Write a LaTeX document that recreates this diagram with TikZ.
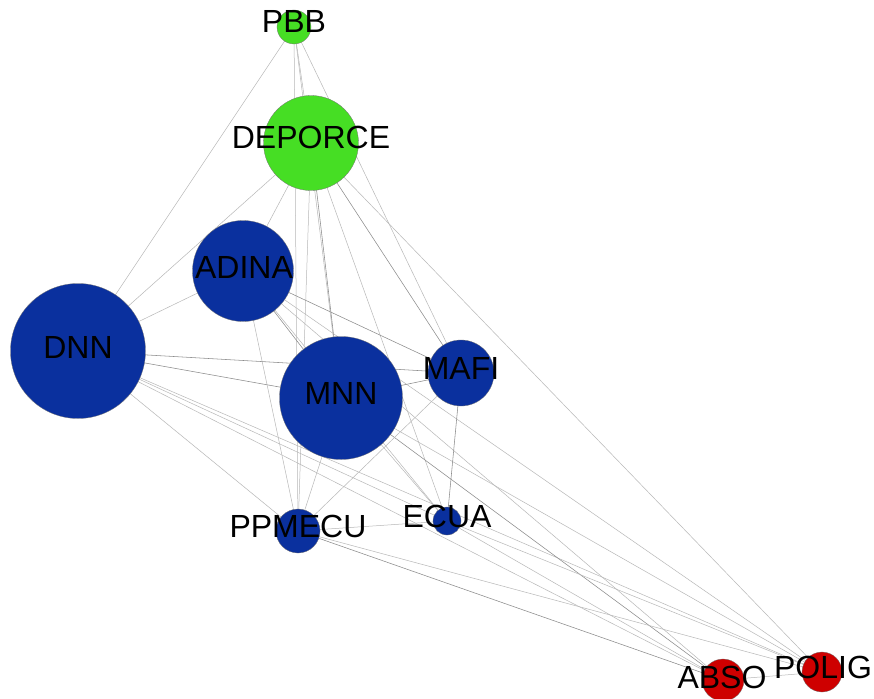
\documentclass[tikz,border=0pt]{standalone}
\usepackage{fontspec}
\setmainfont{Liberation Sans}
\definecolor{ngreen}{RGB}{70,222,36}
\definecolor{nblue}{RGB}{10,48,158}
\definecolor{nred}{RGB}{206,0,0}
\begin{document}
\begin{tikzpicture}[x=1pt,y=-1pt,
  vert/.style={circle, draw=black!55, line width=0.3pt, inner sep=0pt, minimum size=#1},
  lab/.style={inner sep=0pt, font=\fontsize{32}{32}\selectfont, text=black},
  edge/.style={draw=black!28, line width=0.5pt},
  edged/.style={draw=black!45, line width=0.55pt}]
\useasboundingbox (0,0) rectangle (874,698);
\fill[white] (0,0) rectangle (874,698);
% vertices
\path
  (294,27)  coordinate (cPBB)
  (311,143) coordinate (cDEP)
  (243,271) coordinate (cADI)
  (78,351)  coordinate (cDNN)
  (341,398) coordinate (cMNN)
  (461,373) coordinate (cMAF)
  (298,531) coordinate (cPPM)
  (447,521) coordinate (cECU)
  (723,680) coordinate (cABS)
  (822,672) coordinate (cPOL);
% edges
\draw[edge] (cPBB) -- (cDNN);
\draw[edge] (cPBB) -- (cDEP);
\draw[edge] (cPBB) -- (cMNN);
\draw[edge] (cPBB) -- (cPPM);
\draw[edge] (cPBB) -- (cMAF);
\draw[edge] (cDEP) -- (cDNN);
\draw[edge] (cDEP) -- (cADI);
\draw[edged] (cDEP) -- (cMNN);
\draw[edge] (cDEP) -- (cPPM);
\draw[edged] (cDEP) -- (cMAF);
\draw[edge] (cDEP) -- (cECU);
\draw[edge] (cDEP) -- (cPOL);
\draw[edge] (cADI) -- (cDNN);
\draw[edged] (cADI) -- (cMNN);
\draw[edged] (cADI) -- (cMAF);
\draw[edge] (cADI) -- (cPPM);
\draw[edge] (cADI) -- (cECU);
\draw[edge] (cADI) -- (cABS);
\draw[edge] (cADI) -- (cPOL);
\draw[edged] (cDNN) -- (cMNN);
\draw[edged] (cDNN) -- (cMAF);
\draw[edge] (cDNN) -- (cPPM);
\draw[edge] (cDNN) -- (cECU);
\draw[edge] (cDNN) -- (cABS);
\draw[edge] (cDNN) -- (cPOL);
\draw[edged] (cMNN) -- (cMAF);
\draw[edge] (cMNN) -- (cPPM);
\draw[edge] (cMNN) -- (cECU);
\draw[edged] (cMNN) -- (cABS);
\draw[edge] (cMNN) -- (cPOL);
\draw[edge] (cMAF) -- (cPPM);
\draw[edged] (cMAF) -- (cECU);
\draw[edge] (cPPM) -- (cECU);
\draw[edged] (cPPM) -- (cABS);
\draw[edge] (cPPM) -- (cPOL);
\draw[edge] (cECU) -- (cABS);
\draw[edge] (cECU) -- (cPOL);
\draw[edge] (cABS) -- (cPOL);
% nodes
\node[vert=34pt,  fill=ngreen] (PBB) at (cPBB) {};
\node[vert=95pt,  fill=ngreen] (DEP) at (cDEP) {};
\node[vert=101pt, fill=nblue]  (ADI) at (cADI) {};
\node[vert=135pt, fill=nblue]  (DNN) at (cDNN) {};
\node[vert=123pt, fill=nblue]  (MNN) at (cMNN) {};
\node[vert=66pt,  fill=nblue]  (MAF) at (cMAF) {};
\node[vert=44pt,  fill=nblue]  (PPM) at (cPPM) {};
\node[vert=28pt,  fill=nblue]  (ECU) at (cECU) {};
\node[vert=42pt,  fill=nred]   (ABS) at (cABS) {};
\node[vert=40pt,  fill=nred]   (POL) at (cPOL) {};
% labels
\node[lab] (lPBB) at (294,21)  {PBB};
\node[lab] (lDEP) at (311,137) {DEPORCE};
\node[lab] (lADI) at (244,267) {ADINA};
\node[lab] (lDNN) at (78,347)  {DNN};
\node[lab] (lMNN) at (341,393) {MNN};
\node[lab] (lMAF) at (461,368) {MAFI};
\node[lab] (lPPM) at (298,526) {PPMECU};
\node[lab] (lECU) at (447,516) {ECUA};
\node[lab] (lABS) at (722,677) {ABSO};
\node[lab] (lPOL) at (823,667) {POLIG};
\end{tikzpicture}
\end{document}
